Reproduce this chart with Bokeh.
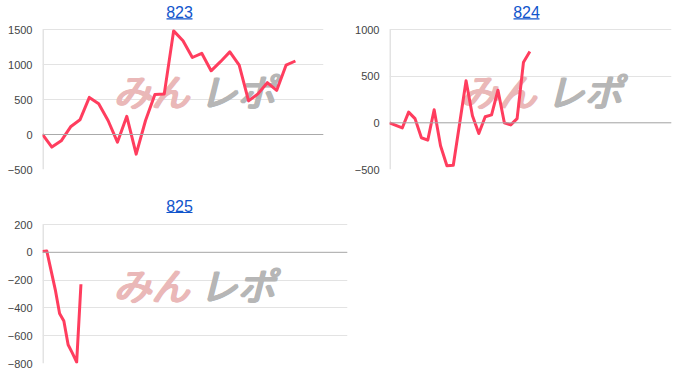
from bokeh.plotting import figure
from bokeh.layouts import column, row
from bokeh.models import Range1d, FixedTicker, Span, Label, BoxAnnotation
from bokeh.embed import file_html
from bokeh.resources import INLINE

# Balance history per machine (points in play order)
titles = ["823", "824", "825"]
values_823 = [0, -180, -90, 110, 210, 530, 440, 200, -110, 260, -280, 200, 570, 580,
              1480, 1340, 1100, 1160, 910, 1040, 1180, 990, 480, 580, 740, 630, 990, 1050]
values_824 = [0, -28, -55, 115, 45, -160, -185, 140, -245, -460, -455, -5, 450, 75,
              -115, 65, 85, 350, 0, -22, 45, 650, 765]
values_825 = [5, 10, -130, -270, -440, -495, -665, -725, -790, -230]

ticks_823 = [-500, 0, 500, 1000, 1500]
ticks_824 = [-500, 0, 500, 1000]
ticks_825 = [-800, -600, -400, -200, 0, 200]

LINE = "#ff3d5e"
FONT = "Liberation Sans"
LINK = "#1155cc"


def make_chart(title, values, ticks, x_end, width, height, left, right, head, bottom, title_mid):
    # the frame reaches the top of the canvas so the heading can live inside it;
    # the value axis itself covers ticks[0]..ticks[-1] over (height - head - bottom) px
    chart_px = height - head - bottom
    span = ticks[-1] - ticks[0]
    y_top = ticks[-1] + head * span / chart_px
    p = figure(width=width, height=height, output_backend="svg", toolbar_location=None,
               x_range=Range1d(0, x_end), y_range=Range1d(ticks[0], y_top),
               min_border_left=left, min_border_right=right,
               min_border_top=0, min_border_bottom=bottom)
    p.outline_line_color = None
    p.background_fill_color = "white"
    p.border_fill_color = "white"
    p.xaxis.visible = False
    p.xgrid.visible = False
    p.ygrid.ticker = FixedTicker(ticks=ticks)
    p.ygrid.grid_line_color = "#e3e3e3"
    p.yaxis.ticker = FixedTicker(ticks=ticks)
    p.yaxis.axis_line_color = None
    p.yaxis.major_tick_line_color = None
    p.yaxis.minor_tick_line_color = None
    p.yaxis.major_tick_out = 0
    p.yaxis.major_label_standoff = 10
    p.yaxis.major_label_text_font = FONT
    p.yaxis.major_label_text_font_size = "11px"
    p.yaxis.major_label_text_color = "#444444"

    # left edge line of the chart area and the zero baseline
    p.segment(x0=[0], y0=[ticks[0]], x1=[0], y1=[ticks[-1]], line_color="#e3e3e3", line_width=3)
    p.add_layout(Span(location=0, dimension="width", line_color="#aaaaaa", line_width=1))

    # watermark (faux bold by stacking offset copies)
    for dx, dy in [(0, 0), (1, 0), (2, 0), (0, 1), (1, 1), (2, 1)]:
        p.add_layout(Label(x=70 + dx, y=79 + dy, x_units="screen", y_units="screen", text="みん",
                           text_font="Noto Sans CJK JP", text_font_style="italic",
                           text_font_size="38px", text_color="#eab8b8",
                           text_baseline="middle", level="underlay"))
        p.add_layout(Label(x=156 + dx, y=79 + dy, x_units="screen", y_units="screen", text="レポ",
                           text_font="Noto Sans CJK JP", text_font_style="italic",
                           text_font_size="38px", text_color="#b6b6b6",
                           text_baseline="middle", level="underlay"))

    xs = list(range(len(values)))
    p.line(xs, values, line_color=LINE, line_width=3, line_join="round")

    # linked heading, underlined
    fh = height - bottom
    p.add_layout(Label(x=137, y=fh - title_mid, x_units="screen", y_units="screen", text=title,
                       text_font=FONT, text_font_size="16px", text_color=LINK,
                       text_align="center", text_baseline="middle"))
    p.add_layout(BoxAnnotation(left=124, right=150, bottom=fh - title_mid - 7.6,
                               top=fh - title_mid - 6.4,
                               left_units="screen", right_units="screen",
                               bottom_units="screen", top_units="screen",
                               fill_color=LINK, fill_alpha=1, line_color=None))
    return p


p1 = make_chart(titles[0], values_823, ticks_823, 30, 340, 190, 42, 17, 29, 21, 11.3)
p2 = make_chart(titles[1], values_824, ticks_824, 44.2, 360, 190, 49, 29, 29, 21, 11.3)
p3 = make_chart(titles[2], values_825, ticks_825, 71.4, 700, 198, 42, 353, 34, 25, 15.0)

layout = column(row(p1, p2), p3)
open("out.html", "w").write(file_html(layout, INLINE))
